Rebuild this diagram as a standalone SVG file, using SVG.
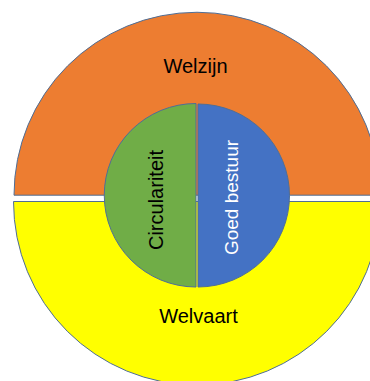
<svg xmlns="http://www.w3.org/2000/svg" width="370" height="381" viewBox="0 0 370 381">
<style>
.seg{stroke:#4F6E96;stroke-width:1}
.lbl{font-family:"Liberation Sans",Arial,sans-serif;font-size:20px;text-anchor:middle}
</style>
<rect width="370" height="381" fill="#ffffff"/>
<g id="welzijn">
<path class="seg" d="M14 195.2 A183 183 0 0 1 380 195.2 Z" fill="#ED7D31"/>
<text class="lbl" x="195.5" y="73" fill="#000000">Welzijn</text>
</g>
<g id="welvaart">
<path class="seg" d="M13.5 201.5 A183.5 183.5 0 0 0 380.5 201.5 Z" fill="#FFFF00"/>
<text class="lbl" x="198.5" y="323" fill="#000000">Welvaart</text>
</g>
<g id="circulariteit">
<path class="seg" d="M196 103.5 A91.75 91.75 0 0 0 196 287 Z" fill="#70AD47"/>
<text class="lbl" transform="translate(163.3,200) rotate(-90)" fill="#000000">Circulariteit</text>
</g>
<g id="goed-bestuur">
<path class="seg" d="M198 104 A91.5 91.5 0 0 1 198 287 Z" fill="#4472C4"/>
<text class="lbl" transform="translate(238.3,197.5) rotate(-90)" fill="#ffffff" style="font-size:19px">Goed bestuur</text>
</g>
<g id="connectors"></g>
</svg>
